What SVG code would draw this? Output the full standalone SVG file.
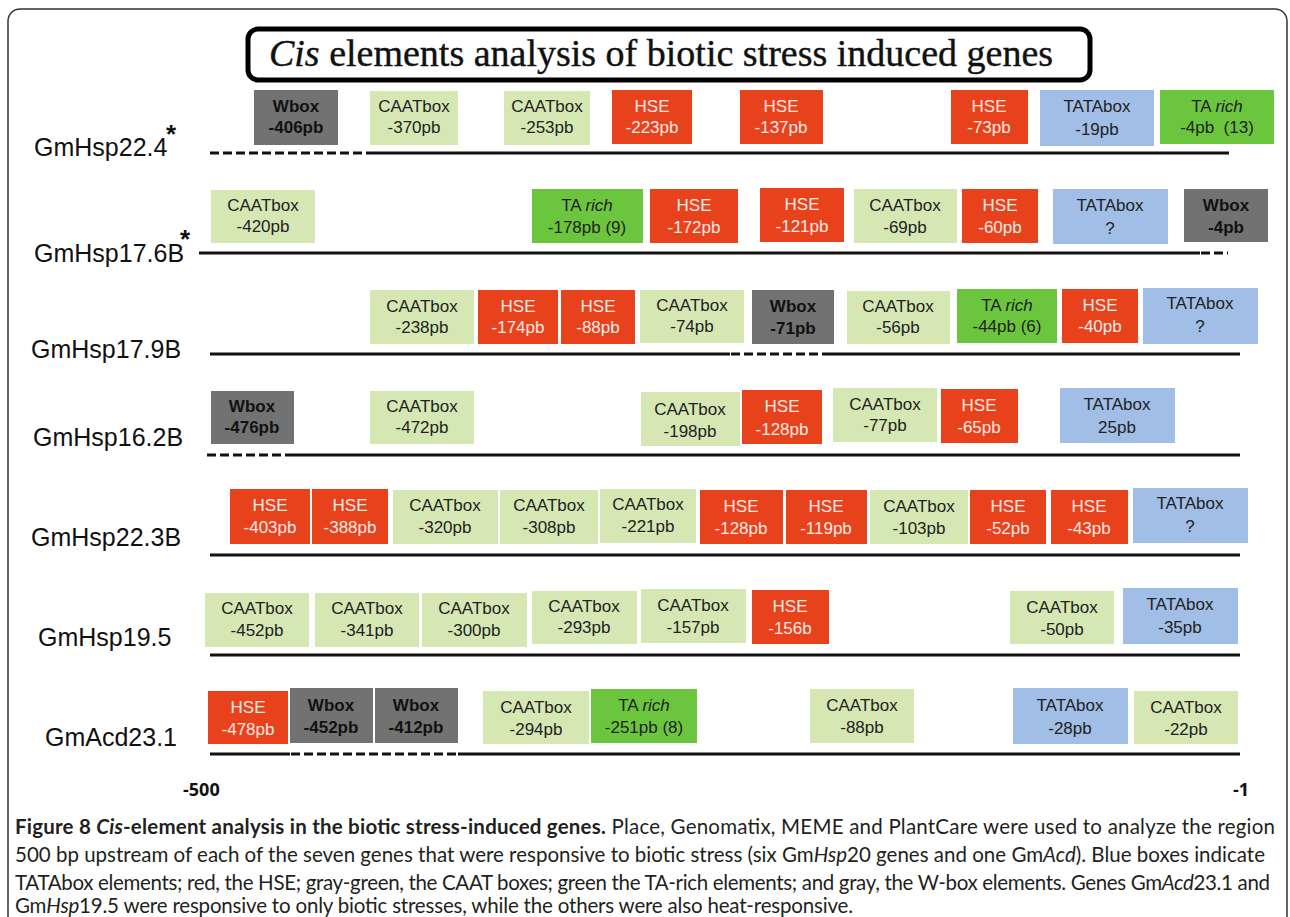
<svg xmlns="http://www.w3.org/2000/svg" width="1290" height="917" viewBox="0 0 1290 917">
<defs>
<style>
.hse{fill:#e8421d}
.caat{fill:#d5e8b3}
.tata{fill:#a0bee6}
.tar{fill:#6cc63d}
.wb{fill:#727272}
.bt{font-family:"Liberation Sans",Arial,sans-serif;font-size:17px;text-anchor:middle;fill:#222}
.bw{fill:#fde9e2}
.bb{font-weight:bold;fill:#111}
.lbl{font-family:"Liberation Sans",Arial,sans-serif;font-size:25px;fill:#111}
.ast{font-family:"Liberation Sans",Arial,sans-serif;font-size:26px;font-weight:bold;fill:#111}
.ln{stroke:#111;stroke-width:3;fill:none}
.ds{stroke-dasharray:9 4}
.cap{font-family:Lato,"Open Sans",sans-serif;font-size:20.5px;fill:#231f20}
.ax{font-family:"Open Sans",sans-serif;font-size:18px;font-weight:bold;fill:#111}
</style>
</defs>
<rect x="8" y="9" width="1279" height="960" rx="12" fill="#fff" stroke="#333" stroke-width="1.5"/>
<g id="title">
<rect x="248" y="29" width="842" height="51" rx="10" fill="#fff" stroke="#000" stroke-width="5"/>
<text x="661" y="66" text-anchor="middle" font-family="'Liberation Serif',serif" font-size="38" fill="#111" stroke="#111" stroke-width="0.4"><tspan font-style="italic">Cis</tspan> elements analysis of biotic stress induced genes</text>
</g>
<g id="labels">
<text class="lbl" x="34" y="156">GmHsp22.4</text><text class="ast" x="166" y="143">*</text>
<text class="lbl" x="34" y="262">GmHsp17.6B</text><text class="ast" x="180" y="248">*</text>
<text class="lbl" x="31" y="358">GmHsp17.9B</text>
<text class="lbl" x="33" y="446">GmHsp16.2B</text>
<text class="lbl" x="31" y="546">GmHsp22.3B</text>
<text class="lbl" x="38" y="646">GmHsp19.5</text>
<text class="lbl" x="45" y="746">GmAcd23.1</text>
</g>
<g id="connectors">
<path class="ln ds" d="M210 153H369"/><path class="ln" d="M369 153H1229"/>
<path class="ln" d="M199 253H1200"/><path class="ln ds" d="M1201 253H1228"/>
<path class="ln" d="M210 354H730"/><path class="ln ds" d="M731 354H822"/><path class="ln" d="M822 354H1240"/>
<path class="ln ds" d="M207 455H290"/><path class="ln" d="M290 455H1240"/>
<path class="ln" d="M210 555H1240"/>
<path class="ln" d="M210 655H1240"/>
<path class="ln" d="M210 754H290"/><path class="ln ds" d="M291 754H458"/><path class="ln" d="M458 754H1240"/>
</g>
<!-- Row 1 -->
<g id="r1-wbox"><rect class="wb" x="254" y="90" width="84" height="55"/><text class="bt bb" x="296" y="112">Wbox</text><text class="bt bb" x="296" y="133">-406pb</text></g>
<g id="r1-caat370"><rect class="caat" x="370" y="91" width="88" height="54"/><text class="bt" x="414" y="112">CAATbox</text><text class="bt" x="414" y="133">-370pb</text></g>
<g id="r1-caat253"><rect class="caat" x="504" y="91" width="86" height="54"/><text class="bt" x="547" y="112">CAATbox</text><text class="bt" x="547" y="133">-253pb</text></g>
<g id="r1-hse223"><rect class="hse" x="612" y="90" width="80" height="54"/><text class="bt bw" x="652" y="112">HSE</text><text class="bt bw" x="652" y="133">-223pb</text></g>
<g id="r1-hse137"><rect class="hse" x="740" y="90" width="83" height="54"/><text class="bt bw" x="781" y="112">HSE</text><text class="bt bw" x="781" y="133">-137pb</text></g>
<g id="r1-hse73"><rect class="hse" x="951" y="90" width="77" height="54"/><text class="bt bw" x="989" y="112">HSE</text><text class="bt bw" x="989" y="133">-73pb</text></g>
<g id="r1-tata"><rect class="tata" x="1040" y="90" width="114" height="56"/><text class="bt" x="1097" y="112">TATAbox</text><text class="bt" x="1097" y="135">-19pb</text></g>
<g id="r1-tarich"><rect class="tar" x="1160" y="90" width="114" height="54"/><text class="bt" x="1217" y="112">TA <tspan font-style="italic">rich</tspan></text><text class="bt" x="1217" y="133">-4pb&#160; (13)</text></g>
<!-- Row 2 -->
<g id="r2-caat420"><rect class="caat" x="211" y="190" width="104" height="53"/><text class="bt" x="263" y="211">CAATbox</text><text class="bt" x="263" y="232">-420pb</text></g>
<g id="r2-tarich"><rect class="tar" x="532" y="189" width="111" height="54"/><text class="bt" x="587" y="211">TA <tspan font-style="italic">rich</tspan></text><text class="bt" x="587" y="233">-178pb (9)</text></g>
<g id="r2-hse172"><rect class="hse" x="650" y="189" width="88" height="54"/><text class="bt bw" x="694" y="211">HSE</text><text class="bt bw" x="694" y="233">-172pb</text></g>
<g id="r2-hse121"><rect class="hse" x="760" y="188" width="84" height="54"/><text class="bt bw" x="802" y="210">HSE</text><text class="bt bw" x="802" y="232">-121pb</text></g>
<g id="r2-caat69"><rect class="caat" x="854" y="189" width="103" height="54"/><text class="bt" x="905" y="211">CAATbox</text><text class="bt" x="905" y="233">-69pb</text></g>
<g id="r2-hse60"><rect class="hse" x="962" y="189" width="76" height="54"/><text class="bt bw" x="1000" y="211">HSE</text><text class="bt bw" x="1000" y="233">-60pb</text></g>
<g id="r2-tata"><rect class="tata" x="1053" y="189" width="115" height="55"/><text class="bt" x="1110" y="211">TATAbox</text><text class="bt" x="1110" y="234">?</text></g>
<g id="r2-wbox"><rect class="wb" x="1184" y="189" width="84" height="53"/><text class="bt bb" x="1226" y="211">Wbox</text><text class="bt bb" x="1226" y="233">-4pb</text></g>
<!-- Row 3 -->
<g id="r3-caat238"><rect class="caat" x="370" y="290" width="104" height="54"/><text class="bt" x="422" y="312">CAATbox</text><text class="bt" x="422" y="333">-238pb</text></g>
<g id="r3-hse174"><rect class="hse" x="478" y="290" width="80" height="54"/><text class="bt bw" x="518" y="312">HSE</text><text class="bt bw" x="518" y="333">-174pb</text></g>
<g id="r3-hse88"><rect class="hse" x="561" y="290" width="74" height="54"/><text class="bt bw" x="598" y="312">HSE</text><text class="bt bw" x="598" y="333">-88pb</text></g>
<g id="r3-caat74"><rect class="caat" x="640" y="290" width="104" height="53"/><text class="bt" x="692" y="311">CAATbox</text><text class="bt" x="692" y="332">-74pb</text></g>
<g id="r3-wbox"><rect class="wb" x="752" y="290" width="82" height="54"/><text class="bt bb" x="793" y="312">Wbox</text><text class="bt bb" x="793" y="334">-71pb</text></g>
<g id="r3-caat56"><rect class="caat" x="847" y="291" width="103" height="53"/><text class="bt" x="898" y="312">CAATbox</text><text class="bt" x="898" y="333">-56pb</text></g>
<g id="r3-tarich"><rect class="tar" x="957" y="289" width="100" height="54"/><text class="bt" x="1007" y="311">TA <tspan font-style="italic">rich</tspan></text><text class="bt" x="1007" y="332">-44pb (6)</text></g>
<g id="r3-hse40"><rect class="hse" x="1062" y="289" width="76" height="54"/><text class="bt bw" x="1100" y="311">HSE</text><text class="bt bw" x="1100" y="332">-40pb</text></g>
<g id="r3-tata"><rect class="tata" x="1143" y="288" width="115" height="56"/><text class="bt" x="1200" y="309">TATAbox</text><text class="bt" x="1200" y="332">?</text></g>
<!-- Row 4 -->
<g id="r4-wbox"><rect class="wb" x="211" y="391" width="83" height="53"/><text class="bt bb" x="252" y="412">Wbox</text><text class="bt bb" x="252" y="433">-476pb</text></g>
<g id="r4-caat472"><rect class="caat" x="370" y="391" width="104" height="53"/><text class="bt" x="422" y="412">CAATbox</text><text class="bt" x="422" y="433">-472pb</text></g>
<g id="r4-caat198"><rect class="caat" x="641" y="392" width="99" height="54"/><text class="bt" x="690" y="415">CAATbox</text><text class="bt" x="690" y="437">-198pb</text></g>
<g id="r4-hse128"><rect class="hse" x="742" y="390" width="80" height="54"/><text class="bt bw" x="782" y="412">HSE</text><text class="bt bw" x="782" y="435">-128pb</text></g>
<g id="r4-caat77"><rect class="caat" x="833" y="388" width="104" height="54"/><text class="bt" x="885" y="410">CAATbox</text><text class="bt" x="885" y="431">-77pb</text></g>
<g id="r4-hse65"><rect class="hse" x="941" y="389" width="77" height="54"/><text class="bt bw" x="979" y="411">HSE</text><text class="bt bw" x="979" y="433">-65pb</text></g>
<g id="r4-tata"><rect class="tata" x="1060" y="388" width="115" height="55"/><text class="bt" x="1117" y="410">TATAbox</text><text class="bt" x="1117" y="433">25pb</text></g>
<!-- Row 5 -->
<g id="r5-hse403"><rect class="hse" x="230" y="489" width="80" height="55"/><text class="bt bw" x="270" y="511">HSE</text><text class="bt bw" x="270" y="533">-403pb</text></g>
<g id="r5-hse388"><rect class="hse" x="312" y="489" width="76" height="55"/><text class="bt bw" x="350" y="511">HSE</text><text class="bt bw" x="350" y="533">-388pb</text></g>
<g id="r5-caat320"><rect class="caat" x="393" y="490" width="105" height="54"/><text class="bt" x="445" y="511">CAATbox</text><text class="bt" x="445" y="533">-320pb</text></g>
<g id="r5-caat308"><rect class="caat" x="500" y="490" width="98" height="54"/><text class="bt" x="549" y="511">CAATbox</text><text class="bt" x="549" y="533">-308pb</text></g>
<g id="r5-caat221"><rect class="caat" x="600" y="489" width="96" height="54"/><text class="bt" x="648" y="510">CAATbox</text><text class="bt" x="648" y="532">-221pb</text></g>
<g id="r5-hse128"><rect class="hse" x="700" y="490" width="83" height="54"/><text class="bt bw" x="741" y="512">HSE</text><text class="bt bw" x="741" y="534">-128pb</text></g>
<g id="r5-hse119"><rect class="hse" x="786" y="490" width="81" height="54"/><text class="bt bw" x="826" y="512">HSE</text><text class="bt bw" x="826" y="534">-119pb</text></g>
<g id="r5-caat103"><rect class="caat" x="870" y="490" width="98" height="54"/><text class="bt" x="919" y="512">CAATbox</text><text class="bt" x="919" y="534">-103pb</text></g>
<g id="r5-hse52"><rect class="hse" x="970" y="490" width="76" height="54"/><text class="bt bw" x="1008" y="512">HSE</text><text class="bt bw" x="1008" y="534">-52pb</text></g>
<g id="r5-hse43"><rect class="hse" x="1051" y="490" width="77" height="54"/><text class="bt bw" x="1089" y="512">HSE</text><text class="bt bw" x="1089" y="534">-43pb</text></g>
<g id="r5-tata"><rect class="tata" x="1133" y="488" width="115" height="55"/><text class="bt" x="1190" y="509">TATAbox</text><text class="bt" x="1190" y="532">?</text></g>
<!-- Row 6 -->
<g id="r6-caat452"><rect class="caat" x="205" y="593" width="104" height="54"/><text class="bt" x="257" y="614">CAATbox</text><text class="bt" x="257" y="636">-452pb</text></g>
<g id="r6-caat341"><rect class="caat" x="315" y="593" width="104" height="54"/><text class="bt" x="367" y="614">CAATbox</text><text class="bt" x="367" y="636">-341pb</text></g>
<g id="r6-caat300"><rect class="caat" x="422" y="593" width="105" height="54"/><text class="bt" x="474" y="614">CAATbox</text><text class="bt" x="474" y="636">-300pb</text></g>
<g id="r6-caat293"><rect class="caat" x="532" y="591" width="105" height="53"/><text class="bt" x="584" y="612">CAATbox</text><text class="bt" x="584" y="633">-293pb</text></g>
<g id="r6-caat157"><rect class="caat" x="641" y="589" width="105" height="54"/><text class="bt" x="693" y="611">CAATbox</text><text class="bt" x="693" y="633">-157pb</text></g>
<g id="r6-hse156"><rect class="hse" x="752" y="590" width="77" height="54"/><text class="bt bw" x="790" y="612">HSE</text><text class="bt bw" x="790" y="634">-156b</text></g>
<g id="r6-caat50"><rect class="caat" x="1010" y="591" width="104" height="53"/><text class="bt" x="1062" y="613">CAATbox</text><text class="bt" x="1062" y="635">-50pb</text></g>
<g id="r6-tata"><rect class="tata" x="1123" y="588" width="115" height="56"/><text class="bt" x="1180" y="610">TATAbox</text><text class="bt" x="1180" y="633">-35pb</text></g>
<!-- Row 7 -->
<g id="r7-hse478"><rect class="hse" x="208" y="691" width="80" height="53"/><text class="bt bw" x="248" y="713">HSE</text><text class="bt bw" x="248" y="735">-478pb</text></g>
<g id="r7-wbox452"><rect class="wb" x="290" y="688" width="83" height="55"/><text class="bt bb" x="331" y="711">Wbox</text><text class="bt bb" x="331" y="733">-452pb</text></g>
<g id="r7-wbox412"><rect class="wb" x="375" y="688" width="83" height="55"/><text class="bt bb" x="416" y="711">Wbox</text><text class="bt bb" x="416" y="733">-412pb</text></g>
<g id="r7-caat294"><rect class="caat" x="483" y="691" width="106" height="53"/><text class="bt" x="536" y="713">CAATbox</text><text class="bt" x="536" y="735">-294pb</text></g>
<g id="r7-tarich"><rect class="tar" x="591" y="689" width="106" height="54"/><text class="bt" x="644" y="711">TA <tspan font-style="italic">rich</tspan></text><text class="bt" x="644" y="733">-251pb (8)</text></g>
<g id="r7-caat88"><rect class="caat" x="810" y="689" width="104" height="54"/><text class="bt" x="862" y="711">CAATbox</text><text class="bt" x="862" y="733">-88pb</text></g>
<g id="r7-tata"><rect class="tata" x="1013" y="688" width="115" height="56"/><text class="bt" x="1070" y="711">TATAbox</text><text class="bt" x="1070" y="734">-28pb</text></g>
<g id="r7-caat22"><rect class="caat" x="1134" y="691" width="104" height="53"/><text class="bt" x="1186" y="713">CAATbox</text><text class="bt" x="1186" y="735">-22pb</text></g>
<g id="axis">
<text class="ax" x="183" y="796">-500</text>
<text class="ax" x="1233" y="796">-1</text>
</g>
<g id="caption">
<text class="cap" x="15" y="834" textLength="1260" lengthAdjust="spacing"><tspan font-weight="bold">Figure 8 <tspan font-style="italic">Cis</tspan>-element analysis in the biotic stress-induced genes.</tspan> Place, Genomatix, MEME and PlantCare were used to analyze the region</text>
<text class="cap" x="15" y="862" textLength="1250" lengthAdjust="spacing">500 bp upstream of each of the seven genes that were responsive to biotic stress (six Gm<tspan font-style="italic">Hsp</tspan>20 genes and one Gm<tspan font-style="italic">Acd</tspan>). Blue boxes indicate</text>
<text class="cap" x="15" y="890" textLength="1255" lengthAdjust="spacing">TATAbox elements; red, the HSE; gray-green, the CAAT boxes; green the TA-rich elements; and gray, the W-box elements. Genes Gm<tspan font-style="italic">Acd</tspan>23.1 and</text>
<text class="cap" x="15" y="913" textLength="838" lengthAdjust="spacing">Gm<tspan font-style="italic">Hsp</tspan>19.5 were responsive to only biotic stresses, while the others were also heat-responsive.</text>
</g>
</svg>
